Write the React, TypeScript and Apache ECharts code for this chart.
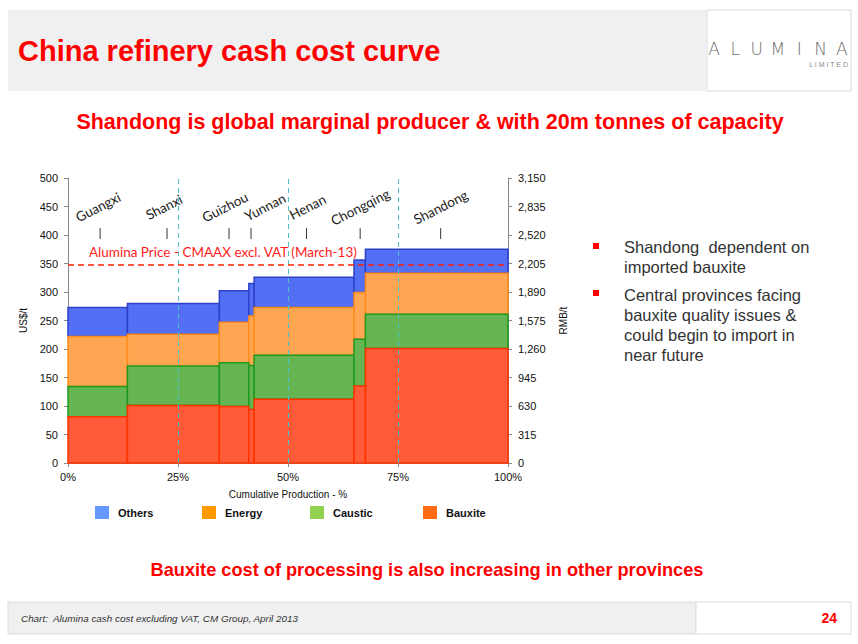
import React, { useEffect, useRef } from "react";
import * as echarts from "echarts";

// ---- data ----
const componentNames = ["Others", "Energy", "Caustic", "Bauxite"];
const segmentStart = [0, 13.5, 34.4, 41.1, 42.3, 65.0, 67.6];
const segmentEnd = [13.5, 34.4, 41.1, 42.3, 65.0, 67.6, 100];
const bauxite = [81, 101, 99, 94, 112, 135, 201];
const caustic = [53, 69, 77, 77, 77, 82, 60];
const energy = [88, 56, 71, 87, 84, 82, 72];
const others = [51, 54, 55, 57, 53, 57, 42];
const provinces = ["Guangxi", "Shanxi", "Guizhou", "Yunnan", "Henan", "Chongqing", "Shandong"];
const provinceTickPct = [7.3, 22.5, 36.6, 41.6, 54.2, 66.4, 84.7];
const aluminaPrice = 348;
const quarterMarks = [25, 50, 75];
const xTicks = [0, 25, 50, 75, 100];
const usdMax = 500;
const rmbMax = 3150;

// ---- styles ----
const FONT = "'Liberation Sans', Arial, sans-serif";
const fills: Record<string, string> = { Others: "#536ff4", Energy: "#ffa652", Caustic: "#65b552", Bauxite: "#ff5b38" };
const strokes: Record<string, string> = { Others: "#2c40c8", Energy: "#ff8c1f", Caustic: "#1f9a1f", Bauxite: "#ff3300" };
const legendColors: Record<string, string> = { Others: "#6699ff", Energy: "#ff9900", Caustic: "#92d050", Bauxite: "#ff6a13" };
const legendLeft = [95, 202, 310, 423];
const labelDx: Record<string, number> = { Guangxi: -2, Shanxi: -3, Guizhou: -4, Yunnan: 14, Henan: 1, Chongqing: 0, Shandong: 0 };

export default function App() {
  const ref = useRef<HTMLDivElement>(null);
  useEffect(() => {
    if (!ref.current) return;
    const chart = echarts.init(ref.current, undefined, { renderer: "svg" });

    const comps: Record<string, number[]> = { Bauxite: bauxite, Caustic: caustic, Energy: energy, Others: others };
    const stackOrder = ["Bauxite", "Caustic", "Energy", "Others"];
    const base = segmentStart.map(() => 0);
    const stackedData: Record<string, number[][]> = {};
    stackOrder.forEach((name) => {
      stackedData[name] = segmentStart.map((s, i) => {
        const y0 = base[i];
        const y1 = y0 + comps[name][i];
        base[i] = y1;
        return [s, segmentEnd[i], y0, y1];
      });
    });

    const barSeries = componentNames.map((name) => ({
      type: "custom",
      name,
      z: 2,
      itemStyle: { color: legendColors[name] },
      data: stackedData[name],
      renderItem: (params: any, api: any) => {
        const p0 = api.coord([api.value(0), api.value(3)]);
        const p1 = api.coord([api.value(1), api.value(2)]);
        return {
          type: "rect",
          shape: { x: p0[0], y: p0[1], width: p1[0] - p0[0], height: p1[1] - p0[1] },
          style: { fill: fills[name], stroke: strokes[name], lineWidth: 1.5 },
        };
      },
    }));

    const provinceSeries = {
      type: "custom",
      z: 4,
      data: provinceTickPct.map((x) => [x, 0]),
      renderItem: (params: any, api: any) => {
        const x = api.value(0);
        const name = provinces[params.dataIndex];
        const t0 = api.coord([x, 412]);
        const t1 = api.coord([x, 393]);
        const lp = api.coord([x, 449]);
        return {
          type: "group",
          children: [
            { type: "line", shape: { x1: t0[0], y1: t0[1], x2: t1[0], y2: t1[1] }, style: { stroke: "#333", lineWidth: 1 } },
            {
              type: "text",
              x: lp[0] + (labelDx[name] || 0),
              y: lp[1],
              rotation: (27 * Math.PI) / 180,
              style: { text: name, fill: "#222", fontSize: 13.5, fontFamily: "Lato, 'Open Sans', sans-serif", align: "center", verticalAlign: "middle" },
            },
          ],
        };
      },
    };

    const guideSeries = {
      type: "scatter",
      data: [],
      z: 1,
      markLine: {
        silent: true,
        symbol: "none",
        lineStyle: { color: "#4fc0c8", type: [5, 4], width: 1 },
        label: { show: false },
        data: quarterMarks.map((q) => ({ xAxis: q })),
      },
    };

    const priceSeries = {
      type: "scatter",
      data: [],
      z: 5,
      markLine: {
        silent: true,
        symbol: "none",
        lineStyle: { color: "#ff2200", type: [6, 4], width: 1.5 },
        label: {
          show: true,
          position: "insideStartTop",
          formatter: "Alumina Price - CMAAX excl. VAT (March-13)",
          color: "#ff1a1a",
          fontSize: 13.5,
          fontFamily: "Lato, 'Open Sans', sans-serif",
          distance: [21, 6],
        },
        data: [{ yAxis: aluminaPrice }],
      },
    };

    const bulletText = { fill: "#333", fontSize: 16.5, fontFamily: FONT, lineHeight: 20, verticalAlign: "top" };
    const logoLetters = ["A", "L", "U", "M", "I", "N", "A"];

    chart.setOption({
      animation: false,
      backgroundColor: "#fff",
      grid: { left: 68, top: 178, width: 440, height: 285 },
      legend: componentNames.map((n, i) => ({
        data: [{ name: n, itemStyle: { color: legendColors[n] } }],
        left: legendLeft[i],
        top: 506,
        padding: 0,
        icon: "rect",
        itemWidth: 14,
        itemHeight: 13,
        selectedMode: false,
        textStyle: { fontWeight: "bold", fontSize: 11, fontFamily: FONT, color: "#111", padding: [0, 0, 0, 4] },
      })),
      xAxis: {
        type: "value",
        min: xTicks[0],
        max: xTicks[xTicks.length - 1],
        interval: 25,
        name: "Cumulative Production - %",
        nameLocation: "middle",
        nameGap: 26,
        nameTextStyle: { fontSize: 10, fontFamily: FONT, color: "#111" },
        axisLine: { lineStyle: { color: "#888" } },
        axisTick: { show: true, length: 4, lineStyle: { color: "#888" } },
        axisLabel: { formatter: (v: number) => v + "%", fontSize: 11, fontFamily: FONT, color: "#111", margin: 8 },
        splitLine: { show: false },
      },
      yAxis: [
        {
          type: "value",
          min: 0,
          max: usdMax,
          interval: 50,
          name: "US$/t",
          nameLocation: "middle",
          nameRotate: 90,
          nameGap: 40,
          nameTextStyle: { fontSize: 10, fontFamily: FONT, color: "#111" },
          axisLine: { show: true, lineStyle: { color: "#888" } },
          axisTick: { show: true, length: 4, lineStyle: { color: "#888" } },
          axisLabel: { fontSize: 11, fontFamily: FONT, color: "#111", margin: 10 },
          splitLine: { show: false },
        },
        {
          type: "value",
          position: "right",
          min: 0,
          max: rmbMax,
          interval: 315,
          name: "RMB/t",
          nameLocation: "middle",
          nameRotate: 90,
          nameGap: 50,
          nameTextStyle: { fontSize: 10, fontFamily: FONT, color: "#111" },
          axisLine: { show: true, lineStyle: { color: "#888" } },
          axisTick: { show: true, length: 4, lineStyle: { color: "#888" } },
          axisLabel: { fontSize: 11, fontFamily: FONT, color: "#111", margin: 10, formatter: (v: number) => v.toLocaleString("en-US") },
          splitLine: { show: false },
        },
      ],
      series: [guideSeries, ...barSeries, priceSeries, provinceSeries],
      graphic: [
        { type: "rect", shape: { x: 8, y: 10, width: 698, height: 81 }, style: { fill: "#f0f0f0" }, silent: true },
        { type: "rect", shape: { x: 707, y: 10, width: 144, height: 81 }, style: { fill: "#fff", stroke: "#d9d9d9", lineWidth: 1 }, silent: true },
        {
          type: "text", x: 18, y: 51,
          style: { text: "China refinery cash cost curve", fill: "#ff0000", fontSize: 29, fontWeight: "bold", fontFamily: FONT, verticalAlign: "middle" },
        },
        ...logoLetters.map((l, i) => ({
          type: "text", x: 714 + i * 21.3, y: 49,
          style: { text: l, fill: "#6d6d6d", fontSize: 17, fontFamily: "'DejaVu Sans', sans-serif", fontWeight: 200, align: "center", verticalAlign: "middle" },
        })),
        {
          type: "text", x: 848, y: 64,
          style: { text: "L I M I T E D", fill: "#8a8a8a", fontSize: 7, fontFamily: FONT, align: "right", verticalAlign: "middle" },
        },
        {
          type: "text", x: 430, y: 122,
          style: { text: "Shandong is global marginal producer & with 20m tonnes of capacity", fill: "#ff0000", fontSize: 21.5, fontWeight: "bold", fontFamily: FONT, align: "center", verticalAlign: "middle" },
        },
        { type: "rect", shape: { x: 593, y: 243, width: 6, height: 6 }, style: { fill: "#ff0000" } },
        { type: "text", x: 624, y: 237, style: { ...bulletText, text: "Shandong  dependent on\nimported bauxite" } },
        { type: "rect", shape: { x: 593, y: 290, width: 6, height: 6 }, style: { fill: "#ff0000" } },
        { type: "text", x: 624, y: 285, style: { ...bulletText, text: "Central provinces facing\nbauxite quality issues &\ncould begin to import in\nnear future" } },
        {
          type: "text", x: 427, y: 570,
          style: { text: "Bauxite cost of processing is also increasing in other provinces", fill: "#ff0000", fontSize: 18.2, fontWeight: "bold", fontFamily: FONT, align: "center", verticalAlign: "middle" },
        },
        { type: "rect", shape: { x: 8, y: 602, width: 688, height: 32 }, style: { fill: "#f0f0f0", stroke: "#dcdcdc", lineWidth: 1 }, silent: true },
        { type: "rect", shape: { x: 696, y: 602, width: 155, height: 32 }, style: { fill: "#fff", stroke: "#dcdcdc", lineWidth: 1 }, silent: true },
        {
          type: "text", x: 21, y: 618,
          style: { text: "Chart:  Alumina cash cost excluding VAT, CM Group, April 2013", fill: "#333", fontSize: 9.9, fontStyle: "italic", fontFamily: FONT, verticalAlign: "middle" },
        },
        {
          type: "text", x: 837, y: 618,
          style: { text: "24", fill: "#ff0000", fontSize: 14, fontWeight: "bold", fontFamily: FONT, align: "right", verticalAlign: "middle" },
        },
      ],
    });
    return () => chart.dispose();
  }, []);
  return <div ref={ref} style={{ position: "fixed", left: 0, top: 0, width: 858, height: 644 }} />;
}
